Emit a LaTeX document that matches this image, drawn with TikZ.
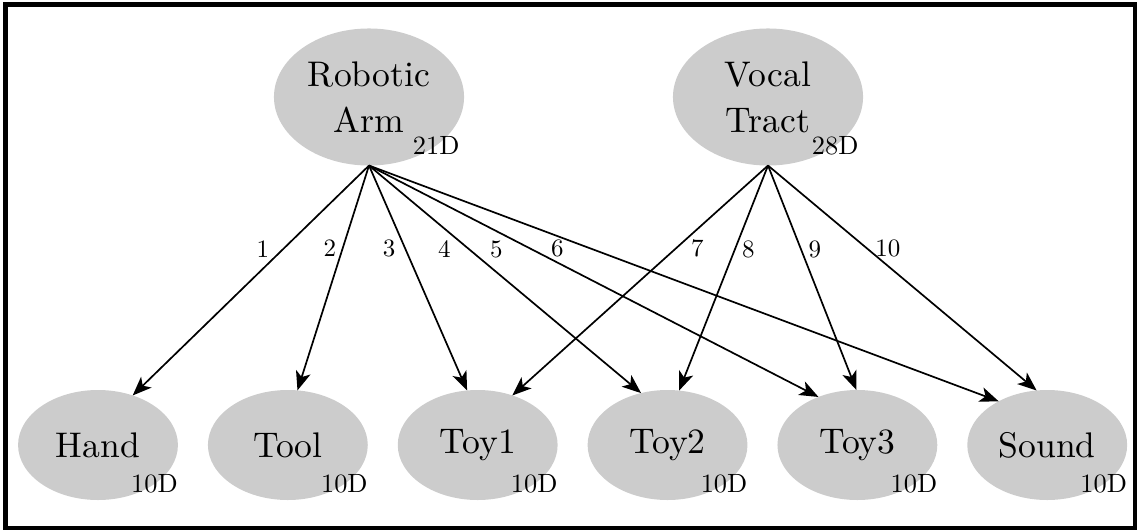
\documentclass[tikz,border=0pt]{standalone}
\usepackage{tikz}
\usepackage{xcolor}
\usetikzlibrary{arrows.meta,positioning,shapes}
\definecolor{partGray}{RGB}{204,204,204}

\begin{document}
\begin{tikzpicture}[
    x=0.5pt, y=-0.5pt,
    node distance=15pt,
    part/.style={
        ellipse, fill=partGray, draw=none, align=center, scale=1.78,
        inner sep=0pt, outer sep=0pt, font=\fontsize{10}{12.9}\selectfont
    },
    body/.style={part, minimum width=53.4pt, minimum height=38.5pt},
    goal/.style={part, minimum width=44.9pt, minimum height=30.9pt},
    dim/.style={font=\fontsize{10}{12}\selectfont, scale=1.32, inner sep=0pt},
    num/.style={font=\fontsize{10}{12}\selectfont, scale=1.25, inner sep=0pt},
    arrow/.style={-{Stealth[length=9.5pt,width=7.5pt,inset=2.5pt]}, line width=0.85pt}
]
\useasboundingbox (0,0) rectangle (1139,530);
\draw[line width=2.4pt] (5.5,4.5) rectangle (1135,528);

\node[body] (ra) at (369,97) {Robotic\\Arm};
\node[body] (vt) at (768,97) {Vocal\\Tract};

\node[goal] (hand) at (98,445) {Hand};
\node[goal, right=of hand] (tool)  {Tool};
\node[goal, right=of tool] (toy1)  {Toy1};
\node[goal, right=of toy1] (toy2)  {Toy2};
\node[goal, right=of toy2] (toy3)  {Toy3};
\node[goal, right=of toy3] (sound) {Sound};

\node[dim] (radim) at (ra.south east) {21D};
\node[dim] (vtdim) at (vt.south east) {28D};
\foreach \n in {hand,tool,toy1,toy2,toy3,sound}
    \node[dim] (\n dim) at (\n.south east) {10D};

\draw[arrow] (ra.south) -- node[num, pos=0.362, xshift=-8.2pt] {1} (hand.55);
\draw[arrow] (ra.south) -- node[num, pos=0.369, xshift=-5.1pt] {2} (tool.80);
\draw[arrow] (ra.south) -- node[num, pos=0.369, xshift=-6.4pt] {3} (toy1.101);
\draw[arrow] (ra.south) -- node[num, pos=0.369, xshift=-10pt] {4} (toy2.117);
\draw[arrow] (ra.south) -- node[num, pos=0.361, xshift=-14pt] {5} (toy3.129);
\draw[arrow] (ra.south) -- node[num, pos=0.353, xshift=-13.6pt] {6} (sound.138);

\draw[arrow] (vt.south) -- node[num, pos=0.362, xshift=8.8pt] {7} (toy1.55);
\draw[arrow] (vt.south) -- node[num, pos=0.372, xshift=5.4pt] {8} (toy2.78);
\draw[arrow] (vt.south) -- node[num, pos=0.372, xshift=5.6pt] {9} (toy3.91);
\draw[arrow] (vt.south) -- node[num, pos=0.369, xshift=8.3pt] {10} (sound.101);

\end{tikzpicture}
\end{document}
